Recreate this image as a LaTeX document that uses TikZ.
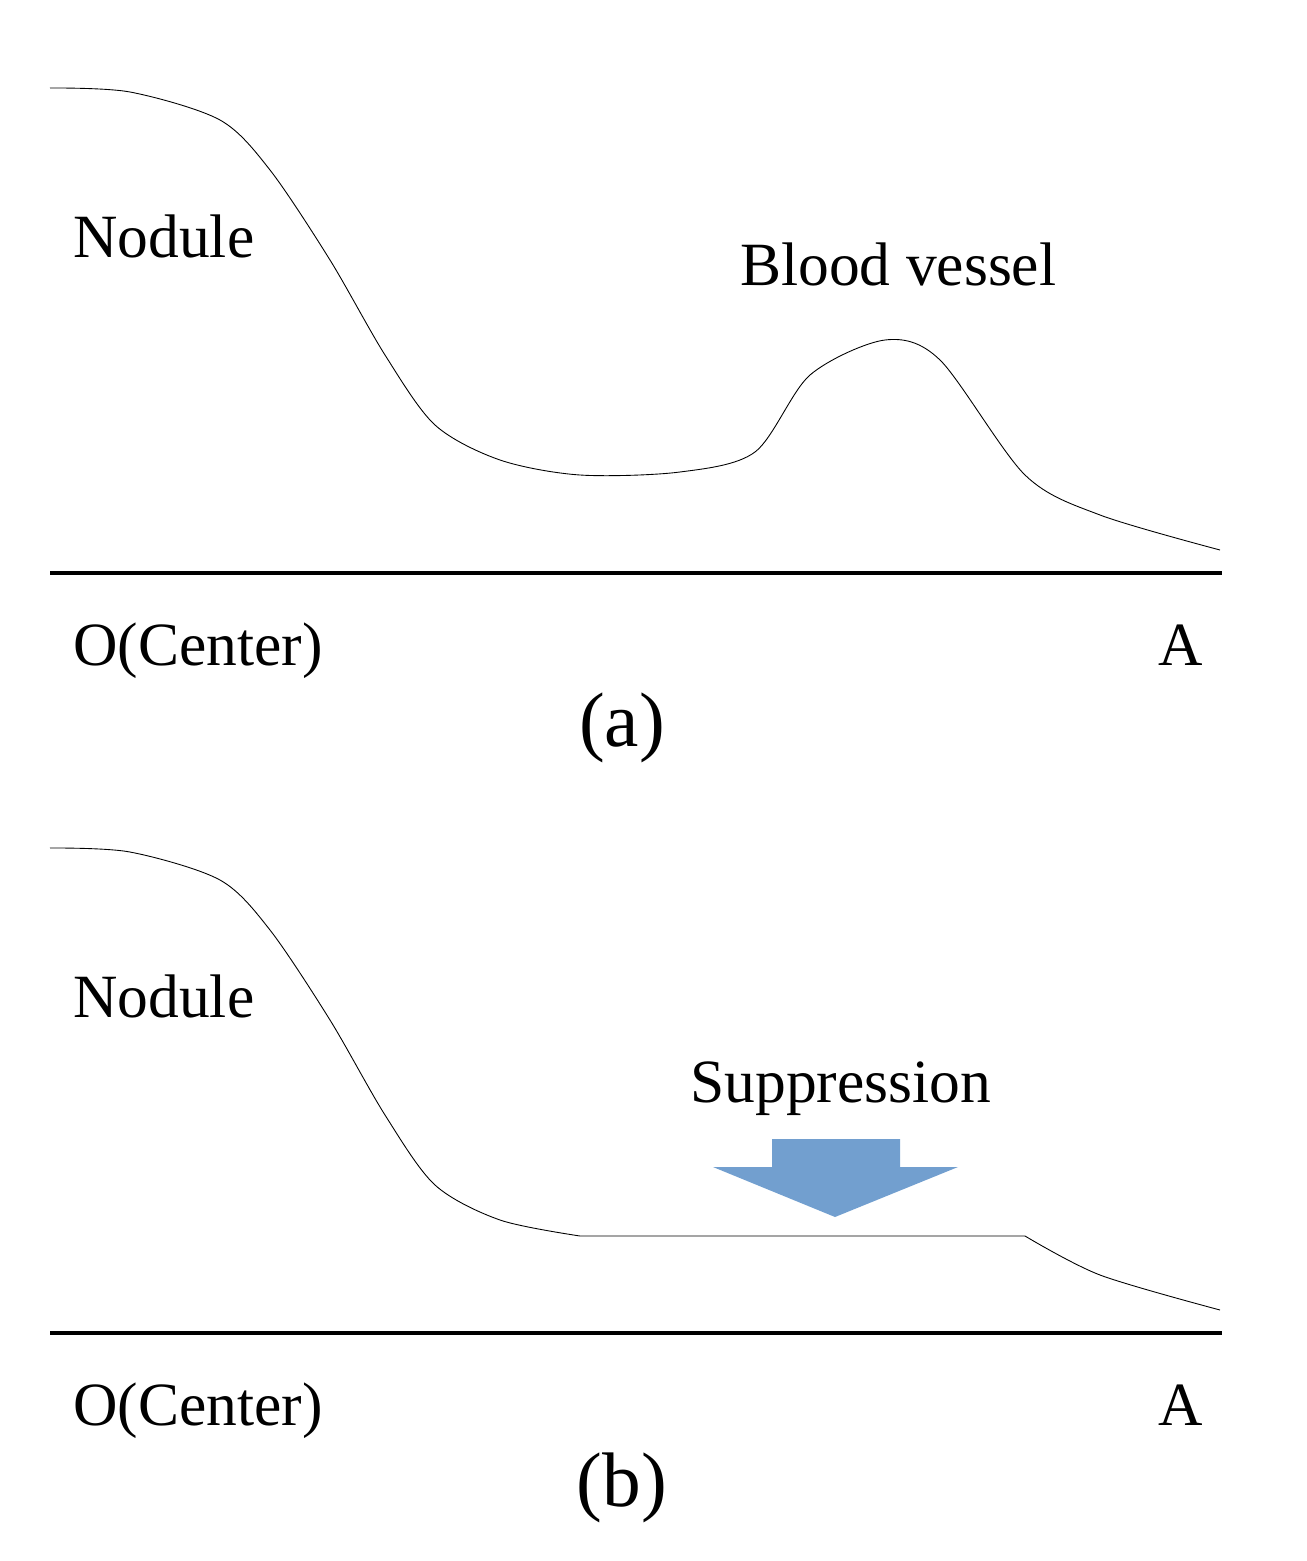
\documentclass[tikz,border=0pt]{standalone}
\usepackage{fontspec}
\setmainfont{Liberation Serif}
\begin{document}
\begin{tikzpicture}[x=0.02cm,y=-0.02cm,
  lbl/.style={font=\fontsize{35}{40}\selectfont,anchor=base west,inner sep=0},
  captxt/.style={font=\fontsize{44}{50}\selectfont,inner sep=0},
  axis/.style={line width=2.3pt},
  curve/.style={line width=0.5pt}]
\useasboundingbox (0,0) rectangle (1306,1561);
% (a)
\draw[curve] plot[smooth,tension=0.5] coordinates{(50,88) (130,92) (220,120) (270,170) (330,260) (385,355) (435,425) (500,460) (580,475) (680,472) (755,452) (810,375) (885,340) (940,360) (1025,475) (1100,515) (1220,550)};
\coordinate (a1) at (50,573); \coordinate (a2) at (1222,573);
\draw[axis] (a1) -- (a2);
\node[lbl] (n1) at (73,257) {Nodule};
\node[lbl] (bv) at (740,285) {Blood vessel};
\node[lbl] (o1) at (73,665) {O(Center)};
\node[lbl] (A1) at (1158,665) {A};
\node[captxt] (ca) at (622,728) {(a)};
% (b)
\draw[curve] plot[smooth,tension=0.5] coordinates{(50,848) (130,852) (220,880) (270,930) (330,1020) (385,1115) (435,1185) (500,1220) (580,1236)} -- (1025,1236) plot[smooth,tension=0.5] coordinates{(1025,1236) (1100,1275) (1220,1310)};
\coordinate (b1) at (50,1333); \coordinate (b2) at (1222,1333);
\draw[axis] (b1) -- (b2);
\node[lbl] (n2) at (73,1017) {Nodule};
\node[lbl] (sp) at (690,1102) {Suppression};
\fill[fill={rgb,255:red,114;green,159;blue,207}] (772,1139) -- (900,1139) -- (900,1167) -- (958,1167) -- (835,1217) -- (713,1167) -- (772,1167) -- cycle;
\node[lbl] (o2) at (73,1425) {O(Center)};
\node[lbl] (A2) at (1158,1425) {A};
\node[captxt] (cb) at (622,1488) {(b)};
\end{tikzpicture}
\end{document}
